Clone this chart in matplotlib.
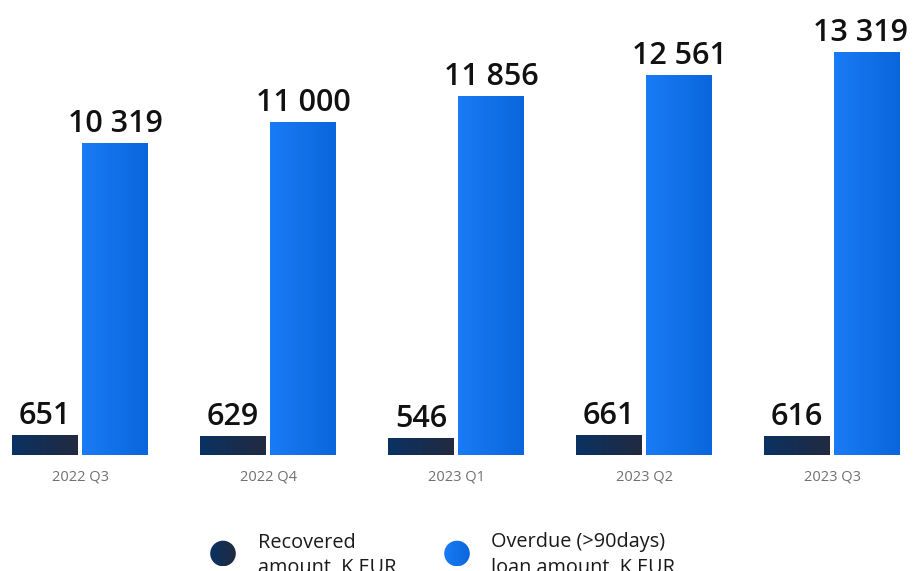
import numpy as np
import matplotlib
matplotlib.use("Agg")
import matplotlib.pyplot as plt
from matplotlib.colors import LinearSegmentedColormap
from matplotlib.patches import Circle

# Quarterly figures, K EUR
quarters = ["2022 Q3", "2022 Q4", "2023 Q1", "2023 Q2", "2023 Q3"]
recovered = [651, 629, 546, 661, 616]
overdue = [10319, 11000, 11856, 12561, 13319]
series_names = ["Recovered\namount, K EUR", "Overdue (>90days)\nloan amount, K EUR"]

plt.rcParams["font.family"] = ["Open Sans", "DejaVu Sans"]

dark_cmap = LinearSegmentedColormap.from_list("dark", ["#0a3262", "#222a40"])
blue_cmap = LinearSegmentedColormap.from_list("blue", ["#1a7bf6", "#0a66dc"])
grad = np.linspace(0, 1, 256).reshape(1, -1)

W, H = 915, 571
fig = plt.figure(figsize=(W / 100, H / 100), dpi=100)

# Main axes: baseline near the lower area, no spines or y axis
ax = fig.add_axes([0, (H - 455) / H, 1, 455 / H])
XLIM = (-80 / 188, (W - 80) / 188)
YLIM = (0, 455 / 0.03026)
ax.axis("off")

x = np.arange(len(quarters))
bw = 66 / 188
off = 35 / 188


def gradient_fill(bars, cmap):
    for b in bars:
        x0, y0 = b.get_x(), b.get_y()
        im = ax.imshow(grad, cmap=cmap, aspect="auto",
                       extent=(x0, x0 + b.get_width(), y0, y0 + b.get_height()),
                       zorder=2, interpolation="bilinear")
        im.set_clip_path(b)
        b.set_facecolor("none")


b1 = ax.bar(x - off, recovered, width=bw, color="#16304f", linewidth=0, zorder=1)
b2 = ax.bar(x + off, overdue, width=bw, color="#1273ec", linewidth=0, zorder=1)
gradient_fill(b1, dark_cmap)
gradient_fill(b2, blue_cmap)
ax.set_xlim(*XLIM)
ax.set_ylim(*YLIM)


def fmt(v):
    return f"{v:,}".replace(",", " ")


n = len(quarters)
for bars, vals in ((b1, recovered), (b2, overdue)):
    for i, (b, v) in enumerate(zip(bars, vals)):
        # keep the right-most label inside the canvas
        dx = -5 if (bars is b2 and i == n - 1) else 0
        ax.annotate(fmt(v), (b.get_x() + b.get_width() / 2, v),
                    xytext=(dx, 3), textcoords="offset points",
                    ha="center", va="bottom", fontsize=22,
                    fontweight="semibold", color="#111111",
                    annotation_clip=False, zorder=4)

for xi, q in zip(x, quarters):
    ax.annotate(q, (xi, 0), xytext=(0, -10.5), textcoords="offset points",
                ha="center", va="top", fontsize=10.5, color="#707070",
                annotation_clip=False, zorder=4)

# Legend drawn in pixel space beneath the bars
lg = fig.add_axes([0, 0, 1, 1], zorder=-1)
lg.axis("off")
R = 12.8
for cx, tx, cmap, name in ((223, 258, dark_cmap, series_names[0]),
                           (457, 491, blue_cmap, series_names[1])):
    circ = Circle((cx, 553.5), R, facecolor="none", edgecolor="none")
    lg.add_patch(circ)
    im = lg.imshow(grad, cmap=cmap, aspect="auto",
                   extent=(cx - R, cx + R, 553.5 + R, 553.5 - R),
                   interpolation="bilinear")
    im.set_clip_path(circ)
    for i, line in enumerate(name.split("\n")):
        lg.text(tx, 547.5 + 25.5 * i, line, ha="left", va="baseline",
                fontsize=14.3, color="#1a1a1a")
lg.set_xlim(0, W)
lg.set_ylim(H, 0)

fig.savefig("out.png", dpi=100)
